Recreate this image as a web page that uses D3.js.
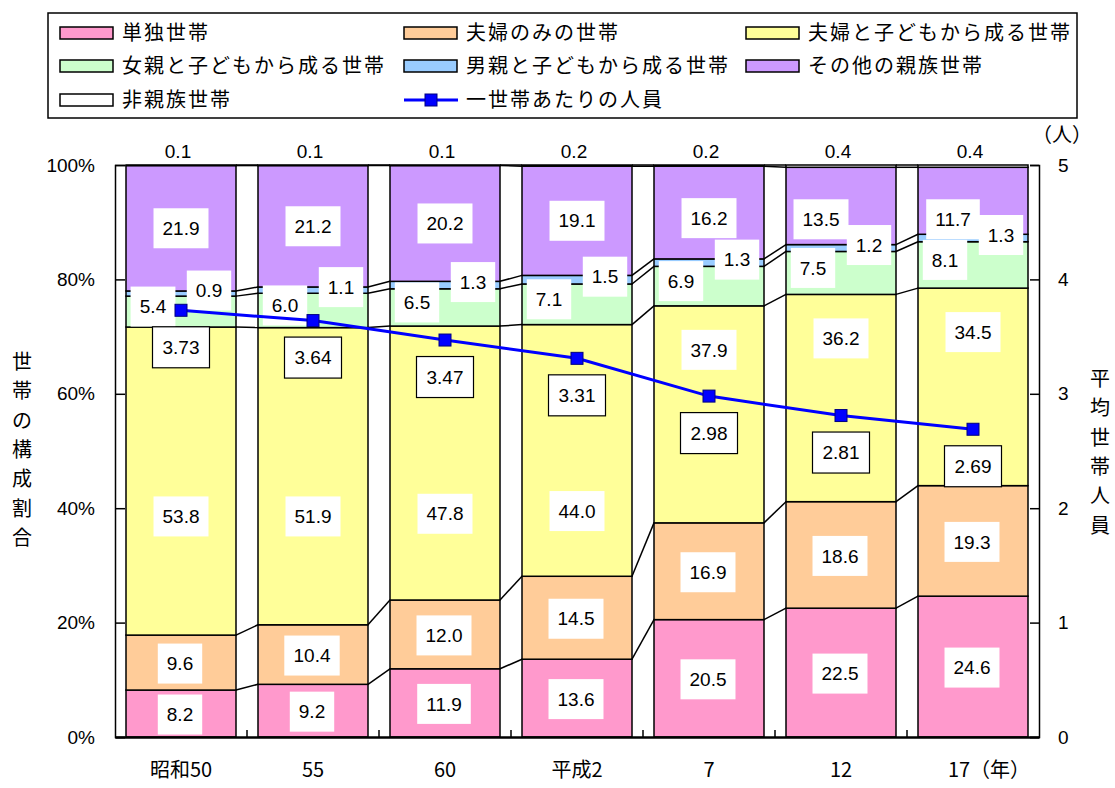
<!DOCTYPE html>
<head>
    <meta charset="utf-8">
    <title>世帯の構成割合と平均世帯人員</title>
    <style>
        body { margin: 0; background: #fff; }
        text {
            font-family: "Liberation Sans", "Noto Sans CJK JP", sans-serif;
            font-size: 19px;
            fill: #000;
        }
        text.jp {
            font-family: "Noto Sans CJK JP", sans-serif;
            font-size: 20px;
        }
        .legend text { letter-spacing: 2px; }
    </style>
    <script type="text/javascript" src="https://cdn.jsdelivr.net/npm/d3@7/dist/d3.min.js"></script>
</head>
<body>
    <script>
        var years = ["昭和50", "55", "60", "平成2", "7", "12", "17"];
        var seriesNames = ["単独世帯", "夫婦のみの世帯", "夫婦と子どもから成る世帯",
            "女親と子どもから成る世帯", "男親と子どもから成る世帯", "その他の親族世帯", "非親族世帯"];
        var single       = [8.2, 9.2, 11.9, 13.6, 20.5, 22.5, 24.6];
        var coupleOnly   = [9.6, 10.4, 12.0, 14.5, 16.9, 18.6, 19.3];
        var coupleKids   = [53.8, 51.9, 47.8, 44.0, 37.9, 36.2, 34.5];
        var motherKids   = [5.4, 6.0, 6.5, 7.1, 6.9, 7.5, 8.1];
        var fatherKids   = [0.9, 1.1, 1.3, 1.5, 1.3, 1.2, 1.3];
        var otherKin     = [21.9, 21.2, 20.2, 19.1, 16.2, 13.5, 11.7];
        var nonKin       = [0.1, 0.1, 0.1, 0.2, 0.2, 0.4, 0.4];
        var perHousehold = [3.73, 3.64, 3.47, 3.31, 2.98, 2.81, 2.69];
        var lineName = "一世帯あたりの人員";
        var colors = ["#ff99cc", "#ffcc99", "#ffff99", "#ccffcc", "#99ccff", "#cc99ff", "#ffffff"];

        var seriesValues = [single, coupleOnly, coupleKids, motherKids, fatherKids, otherKin, nonKin];

        var W = 1115, H = 788;
        var margin = { top: 165, right: 76, bottom: 51, left: 115 };
        var width = W - margin.left - margin.right,
            height = H - margin.top - margin.bottom;

        var rows = years.map(function (yr, i) {
            var r = { year: yr };
            seriesNames.forEach(function (s, k) { r[s] = seriesValues[k][i]; });
            return r;
        });
        var stacked = d3.stack().keys(seriesNames).offset(d3.stackOffsetExpand)(rows);

        var x = d3.scaleBand().domain(years).range([0, width])
            .paddingInner(1 / 6).paddingOuter(1 / 12);
        var y = d3.scaleLinear().domain([0, 1]).range([height, 0]);
        var y2 = d3.scaleLinear().domain([0, 5]).range([height, 0]);
        var color = d3.scaleOrdinal().domain(seriesNames).range(colors);

        var svg = d3.select("body").append("svg")
            .attr("width", W).attr("height", H);

        // legend
        var legend = svg.append("g").attr("class", "legend");
        legend.append("rect")
            .attr("x", 48).attr("y", 13).attr("width", 1029).attr("height", 105)
            .attr("fill", "#fff").attr("stroke", "#000").attr("stroke-width", 1.5);
        var legendItems = seriesNames.concat([lineName]);
        var colX = [60, 404, 746], rowY = [33, 66, 100];
        legendItems.forEach(function (name, i) {
            var g = legend.append("g")
                .attr("transform", "translate(" + colX[i % 3] + "," + rowY[Math.floor(i / 3)] + ")");
            if (name === lineName) {
                g.append("line").attr("x1", 0).attr("x2", 54).attr("y1", 0).attr("y2", 0)
                    .attr("stroke", "#0000ff").attr("stroke-width", 3);
                g.append("rect").attr("x", 21).attr("y", -6).attr("width", 12).attr("height", 12)
                    .attr("fill", "#0000ff").attr("stroke", "#000080");
            } else {
                g.append("rect").attr("x", 0).attr("y", -6).attr("width", 53).attr("height", 12)
                    .attr("fill", color(name)).attr("stroke", "#000").attr("stroke-width", 1.5);
            }
            g.append("text").attr("class", "jp").attr("x", 62).attr("dy", "0.35em").text(name);
        });

        var plot = svg.append("g")
            .attr("transform", "translate(" + margin.left + "," + margin.top + ")");

        // bars
        var layers = plot.append("g").selectAll("g")
            .data(stacked).enter().append("g")
            .attr("fill", function (d) { return color(d.key); });
        layers.selectAll("rect")
            .data(function (d) { return d; })
            .enter().append("rect")
            .attr("x", function (d) { return x(d.data.year); })
            .attr("y", function (d) { return y(d[1]); })
            .attr("width", x.bandwidth())
            .attr("height", function (d) { return y(d[0]) - y(d[1]); })
            .attr("stroke", "#000").attr("stroke-width", 1.5);

        // series lines between bars
        var series = plot.append("g");
        stacked.forEach(function (layer) {
            for (var i = 0; i < years.length - 1; i++) {
                series.append("line")
                    .attr("x1", x(years[i]) + x.bandwidth())
                    .attr("x2", x(years[i + 1]))
                    .attr("y1", y(layer[i][1]))
                    .attr("y2", y(layer[i + 1][1]))
                    .attr("stroke", "#000").attr("stroke-width", 1.5);
            }
        });

        // axes
        var leftAxis = plot.append("g")
            .call(d3.axisLeft(y).ticks(5).tickFormat(d3.format(".0%")).tickSize(-10).tickPadding(20));
        var rightAxis = plot.append("g")
            .attr("transform", "translate(" + width + ",0)")
            .call(d3.axisRight(y2).ticks(5).tickFormat(d3.format("d")).tickSize(-9).tickPadding(19));
        [leftAxis, rightAxis].forEach(function (a) {
            a.selectAll("path, line").attr("stroke", "#000").attr("stroke-width", 1.5);
            a.selectAll("text").style("font-size", "19px")
                .style("font-family", "'Liberation Sans', sans-serif");
        });

        var bottomAxis = plot.append("g")
            .attr("transform", "translate(0," + height + ")")
            .call(d3.axisBottom(x).tickSize(0).tickPadding(26));
        bottomAxis.select(".domain").attr("stroke", "#000").attr("stroke-width", 2.5);
        bottomAxis.selectAll("text")
            .attr("class", "jp")
            .style("font-size", "20px")
            .style("font-family", "'Noto Sans CJK JP', sans-serif")
            .text(function (d) { return d === "17" ? "17（年）" : d; })
            .attr("dx", function (d) { return d === "17" ? 16 : 0; });
        var gap = x.step() - x.bandwidth();
        plot.append("g").selectAll("line")
            .data(years.slice(0, -1)).enter().append("line")
            .attr("x1", function (d) { return x(d) + x.bandwidth() + gap / 2; })
            .attr("x2", function (d) { return x(d) + x.bandwidth() + gap / 2; })
            .attr("y1", height).attr("y2", height - 7)
            .attr("stroke", "#000").attr("stroke-width", 1.5);

        // where the 人員 label boxes sit, relative to their marker
        var boxOffset = 37, boxH = 41;

        // segment labels
        function labelPos(k, d, i) {
            var left = x(years[i]), bw = x.bandwidth();
            var top = y(d[1]), bot = y(d[0]), h = bot - top, mid = (top + bot) / 2;
            if (k === 2) {
                // keep clear of the 人員 label box
                var by = y2(perHousehold[i]) + boxOffset;
                if (by < mid) return [left + bw / 2, (by + boxH / 2 + bot) / 2 + 15];
                return [left + bw / 2, top + 44];
            }
            if (k === 3) return [left + 27, mid - 5];
            if (k === 4) return [left + bw - 27, mid - 3];
            if (k === 5) return [left + bw / 2 - (h < 90 ? 20 : 0), Math.max(mid, top + 52)];
            return [left + bw / 2 - 1, mid + 1];
        }
        var labels = plot.append("g");
        stacked.forEach(function (layer, k) {
            layer.forEach(function (d, i) {
                var v = seriesValues[k][i];
                if (k === 6) {
                    labels.append("text")
                        .attr("x", x(years[i]) + x.bandwidth() / 2 - 3)
                        .attr("y", y(d[1]) - 14)
                        .attr("dy", "0.35em")
                        .attr("text-anchor", "middle")
                        .text(v.toFixed(1));
                    return;
                }
                var p = labelPos(k, d, i);
                var g = labels.append("g").attr("transform", "translate(" + p[0] + "," + p[1] + ")");
                var rect = g.append("rect").attr("fill", "#fff");
                var t = g.append("text").attr("text-anchor", "middle").attr("dy", "0.35em")
                    .text(v.toFixed(1));
                var bb = t.node().getBBox();
                rect.attr("x", -bb.width / 2 - 9).attr("y", -20)
                    .attr("width", bb.width + 18).attr("height", 40);
            });
        });

        // average household size line
        var line = d3.line()
            .x(function (d, i) { return x(years[i]) + x.bandwidth() / 2; })
            .y(function (d) { return y2(d); });
        plot.append("path")
            .datum(perHousehold)
            .attr("d", line)
            .attr("fill", "none")
            .attr("stroke", "#0000ff")
            .attr("stroke-width", 3);
        plot.append("g").selectAll("rect")
            .data(perHousehold).enter().append("rect")
            .attr("x", function (d, i) { return x(years[i]) + x.bandwidth() / 2 - 6; })
            .attr("y", function (d) { return y2(d) - 6; })
            .attr("width", 12).attr("height", 12)
            .attr("fill", "#0000ff").attr("stroke", "#000080");

        var lineLabels = plot.append("g").selectAll("g")
            .data(perHousehold).enter().append("g")
            .attr("transform", function (d, i) {
                return "translate(" + (x(years[i]) + x.bandwidth() / 2) + "," + (y2(d) + boxOffset) + ")";
            });
        lineLabels.append("rect")
            .attr("x", -28.5).attr("y", -boxH / 2).attr("width", 57).attr("height", boxH)
            .attr("fill", "#fff").attr("stroke", "#000").attr("stroke-width", 1.2);
        lineLabels.append("text")
            .attr("text-anchor", "middle").attr("dy", "0.35em")
            .text(function (d) { return d.toFixed(2); });

        // axis titles
        var leftTitle = svg.append("text").attr("class", "jp").attr("text-anchor", "middle");
        "世帯の構成割合".split("").forEach(function (c, i) {
            leftTitle.append("tspan").attr("x", 22).attr("y", 362 + i * 29.3).attr("dy", "0.35em").text(c);
        });
        var rightTitle = svg.append("text").attr("class", "jp").attr("text-anchor", "middle");
        "平均世帯人員".split("").forEach(function (c, i) {
            rightTitle.append("tspan").attr("x", 1100).attr("y", 379 + i * 29.3).attr("dy", "0.35em").text(c);
        });
        svg.append("text").attr("class", "jp")
            .attr("x", margin.left + width + 23).attr("y", 135).attr("dy", "0.35em")
            .attr("text-anchor", "middle")
            .text("（人）");
    </script>
</body>
